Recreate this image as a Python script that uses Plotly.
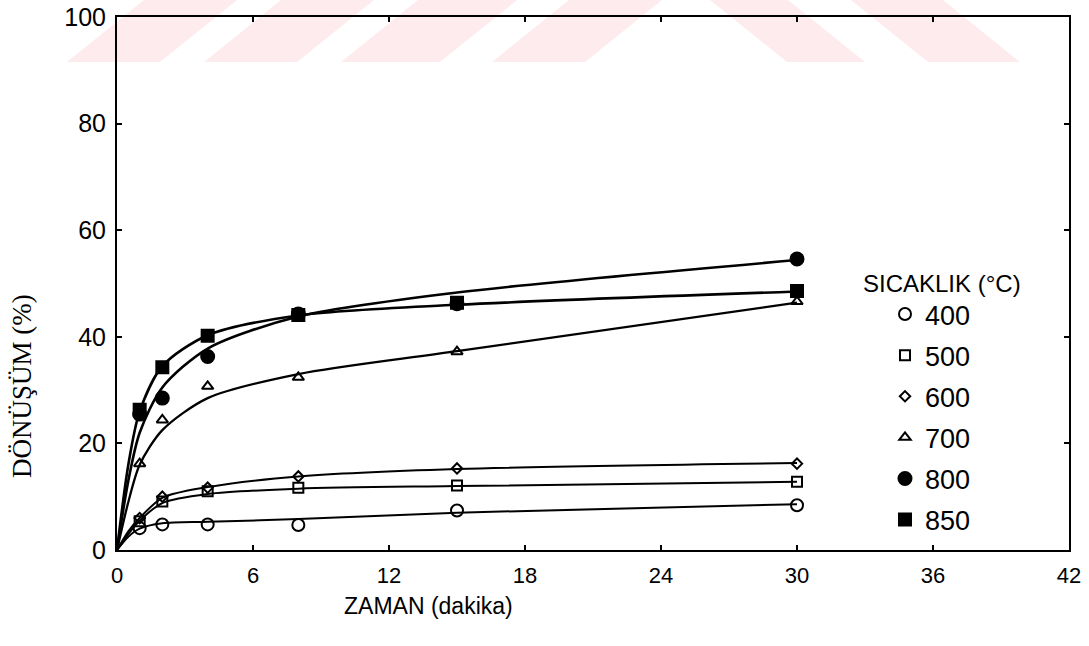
import plotly.graph_objects as go

# ---- data ----
time_min = [1, 2, 4, 8, 15, 30]
temps = ["400", "500", "600", "700", "800", "850"]
conv_400 = [4.1, 4.8, 4.8, 4.7, 7.4, 8.4]
conv_500 = [5.4, 9.1, 11.0, 11.7, 12.1, 12.8]
conv_600 = [6.0, 10.0, 11.7, 13.8, 15.3, 16.2]
conv_700 = [16.2, 24.4, 30.7, 32.4, 37.2, 46.6]
conv_800 = [25.5, 28.5, 36.3, 44.3, 46.2, 54.6]
conv_850 = [26.3, 34.3, 40.2, 44.1, 46.4, 48.6]

# fitted curves
curve_t = [0, 0.5, 1, 2, 4, 8, 15, 30]
curve_400 = [0, 2.5, 4.0, 5.0, 5.3, 5.8, 7.0, 8.6]
curve_500 = [0, 3.0, 5.5, 8.8, 10.5, 11.5, 12.0, 12.8]
curve_600 = [0, 3.5, 6.0, 9.8, 11.8, 13.8, 15.2, 16.3]
curve_700 = [0, 9.0, 16.0, 22.5, 28.5, 33.0, 37.3, 46.4]
curve_800 = [0, 13.0, 22.0, 30.5, 37.8, 43.8, 48.3, 54.4]
curve_850 = [0, 16.0, 26.0, 34.5, 40.3, 44.0, 46.0, 48.5]

x_ticks = [0, 6, 12, 18, 24, 30, 36, 42]
y_ticks = [0, 20, 40, 60, 80, 100]

points = [conv_400, conv_500, conv_600, conv_700, conv_800, conv_850]
curves = [curve_400, curve_500, curve_600, curve_700, curve_800, curve_850]
symbols = ["circle-open", "square-open", "diamond-open", "triangle-up-open", "circle", "square"]
sizes = [12, 10, 8, 10, 13, 12]
widths = [2, 2, 2, 2.3, 2.6, 2.6]

fig = go.Figure()

for i, t in enumerate(temps):
    fig.add_trace(go.Scatter(
        x=curve_t, y=curves[i], mode="lines",
        line=dict(color="black", width=widths[i], shape="spline", smoothing=0.8),
        showlegend=False, hoverinfo="skip"))

for i, t in enumerate(temps):
    fig.add_trace(go.Scatter(
        x=time_min, y=points[i], mode="markers", name=t, legendgroup=t,
        marker=dict(symbol=symbols[i], size=sizes[i], color="black",
                    line=dict(color="black", width=2))))

# ---- layout geometry ----
W, H = 1089, 646
# plot area position on the page (body margin removed below)
PL, PR, PT, PB = 117, 1069, 17, 550


def px(x):
    return (x - PL) / (PR - PL)


def py(y):
    return (PB - y) / (PB - PT)


# faint watermark band at the top
wm_shapes = []
band_bot, band_top = 62, 0
for x0, x1 in [(67, 160), (204, 297), (341, 440), (492, 585)]:
    s = 77
    path = (f"M {px(x0)} {py(band_bot)} L {px(x1)} {py(band_bot)} "
            f"L {px(x1 + s)} {py(band_top)} L {px(x0 + s)} {py(band_top)} Z")
    wm_shapes.append(dict(type="path", path=path, xref="paper", yref="paper",
                          fillcolor="#fdebee", line=dict(width=0), layer="below"))
for x0, x1 in [(787, 865), (928, 1020)]:
    s = -77
    path = (f"M {px(x0)} {py(band_bot)} L {px(x1)} {py(band_bot)} "
            f"L {px(x1 + s)} {py(band_top)} L {px(x0 + s)} {py(band_top)} Z")
    wm_shapes.append(dict(type="path", path=path, xref="paper", yref="paper",
                          fillcolor="#fdebee", line=dict(width=0), layer="below"))

axis_common = dict(showline=True, linecolor="black", linewidth=2, mirror="ticks",
                   ticks="inside", ticklen=5, tickwidth=1.5, tickcolor="black",
                   showgrid=False, zeroline=False, ticklabeloverflow="allow",
                   automargin=False)

fig.update_layout(
    width=W, height=H,
    margin=dict(l=PL, r=W - PR, t=PT, b=H - PB),
    paper_bgcolor="white", plot_bgcolor="rgba(0,0,0,0)",
    xaxis=dict(range=[0, 42], tickvals=x_ticks, ticktext=[str(v) for v in x_ticks],
               tickfont=dict(family="Liberation Sans, Arial", size=22, color="black"),
               ticklabelstandoff=5, **axis_common),
    yaxis=dict(range=[0, 100], tickvals=y_ticks, ticktext=[str(v) for v in y_ticks],
               tickfont=dict(family="Liberation Sans, Arial", size=25, color="black"),
               ticklabelstandoff=4, **axis_common),
    legend=dict(x=px(885), y=py(290), xanchor="left", yanchor="top",
                font=dict(family="Liberation Sans, Arial", size=27, color="black"),
                traceorder="grouped", tracegroupgap=3, bgcolor="rgba(0,0,0,0)",
                itemwidth=30),
    shapes=wm_shapes,
    annotations=[
        dict(text="SICAKLIK (°C)", x=px(861), y=py(283), xref="paper", yref="paper",
             xanchor="left", yanchor="middle", showarrow=False,
             font=dict(family="Liberation Sans, Arial", size=24, color="black")),
        dict(text="ZAMAN (dakika)", x=px(428), y=py(606), xref="paper", yref="paper",
             xanchor="center", yanchor="middle", showarrow=False,
             font=dict(family="Liberation Sans, Arial", size=23, color="black")),
        dict(text="DÖNÜŞÜM (%)", x=px(22), y=py(386), xref="paper", yref="paper",
             xanchor="center", yanchor="middle", showarrow=False, textangle=-90,
             font=dict(family="Liberation Serif, Times New Roman", size=27, color="black")),
    ],
)

fig.write_html("out.html",
               config={"displayModeBar": False},
               post_script="document.body.style.margin='0';document.body.style.overflow='hidden';")
